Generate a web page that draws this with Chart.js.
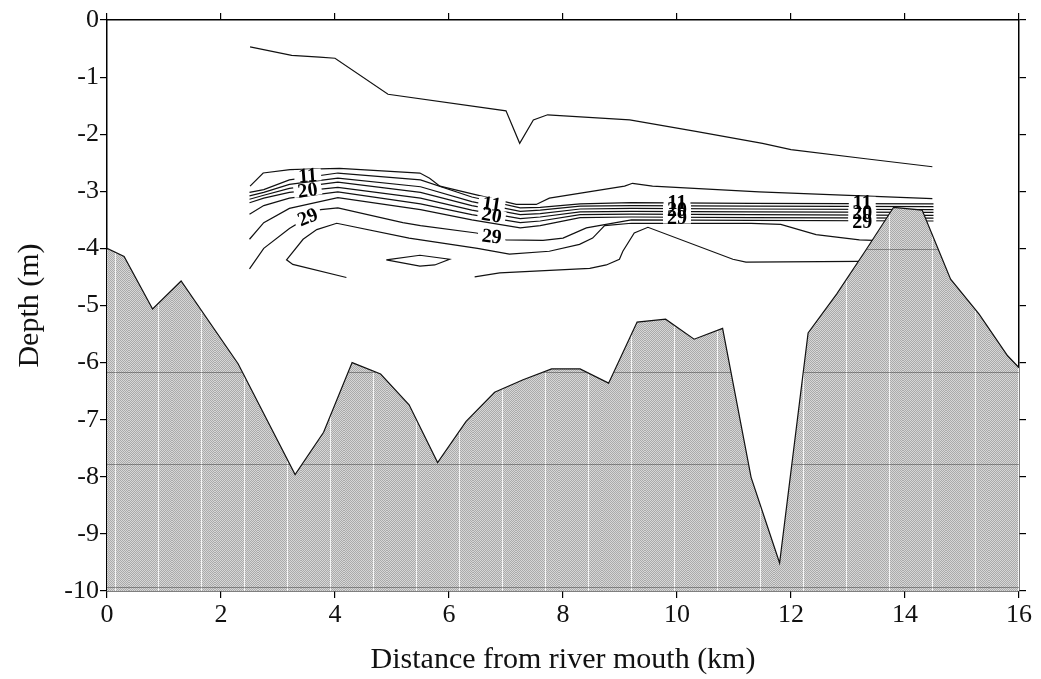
<!DOCTYPE html>
<html>
<head>
<meta charset="utf-8">
<script src="https://cdn.jsdelivr.net/npm/chart.js@4.4.1/dist/chart.umd.min.js"></script>
<style>
html,body{margin:0;padding:0;background:#fff}
#wrap{width:1041px;height:679px}
</style>
</head>
<body>
<div id="wrap"><canvas id="chart" width="1041" height="679"></canvas></div>
<script>
// --- bottom profile (km from mouth, depth m) ---
const bedKm    = [0, 0.3, 0.8, 1.3, 2.3, 3.3, 3.8, 4.3, 4.8, 5.3, 5.8, 6.3, 6.8, 7.3, 7.8, 8.3, 8.8, 9.3, 9.8, 10.3, 10.8, 11.3, 11.8, 12.3, 12.8, 13.3, 13.8, 14.3, 14.8, 15.3, 15.8, 16];
const bedDepth = [-4.0, -4.14, -5.06, -4.57, -6.02, -7.96, -7.22, -6.0, -6.2, -6.74, -7.75, -7.03, -6.52, -6.3, -6.11, -6.11, -6.36, -5.29, -5.24, -5.59, -5.40, -8.01, -9.51, -5.48, -4.8, -4.05, -3.28, -3.33, -4.54, -5.15, -5.88, -6.09];

// --- contour lines ---
const topKm    = [2.51, 3.24, 3.73, 4.0, 4.93, 7.0, 7.24, 7.48, 7.73, 9.17, 10.33, 11.5, 12.0, 13.31, 14.48];
const topDepth = [-0.47, -0.62, -0.65, -0.67, -1.30, -1.59, -2.16, -1.75, -1.66, -1.75, -1.95, -2.16, -2.27, -2.43, -2.57];

const upperKm    = [2.51, 2.74, 3.21, 4.08, 5.49, 5.66, 5.84, 7.18, 7.53, 7.76, 9.08, 9.22, 9.57, 11.44, 14.48];
const upperDepth = [-2.91, -2.68, -2.62, -2.60, -2.68, -2.77, -2.91, -3.23, -3.23, -3.12, -2.91, -2.86, -2.91, -3.01, -3.13];

const stackKm = [2.5, 2.75, 3.2, 4.05, 5.5, 6.4, 7.25, 7.6, 8.3, 9.2, 11.3, 14.5];
const depth11 = [-3.02, -2.97, -2.80, -2.68, -2.80, -3.10, -3.29, -3.28, -3.22, -3.20, -3.21, -3.22];
const depth14 = [-3.08, -3.02, -2.88, -2.77, -2.92, -3.18, -3.35, -3.33, -3.26, -3.25, -3.26, -3.27];
const depth17 = [-3.14, -3.07, -2.95, -2.84, -3.02, -3.25, -3.41, -3.39, -3.31, -3.30, -3.31, -3.32];
const depth20 = [-3.20, -3.12, -3.02, -2.93, -3.12, -3.33, -3.48, -3.45, -3.36, -3.35, -3.36, -3.37];
const depth23 = [-3.40, -3.25, -3.12, -3.01, -3.22, -3.41, -3.55, -3.52, -3.41, -3.40, -3.41, -3.42];
const depth26 = [-3.84, -3.55, -3.30, -3.11, -3.32, -3.50, -3.64, -3.60, -3.46, -3.45, -3.46, -3.47];

const km29    = [2.5, 2.75, 3.2, 3.5, 3.75, 4.05, 5.19, 5.5, 6.48, 7.0, 7.65, 8.0, 8.41, 9.2, 11.3, 14.5];
const depth29 = [-4.36, -4.0, -3.65, -3.47, -3.32, -3.29, -3.55, -3.60, -3.73, -3.85, -3.86, -3.82, -3.64, -3.50, -3.51, -3.52];

const km32    = [4.2, 3.26, 3.15, 3.44, 3.68, 4.03, 5.3, 6.5, 7.06, 7.76, 8.29, 8.52, 8.73, 9.2, 11.3, 11.82, 12.44, 13.2, 14.5];
const depth32 = [-4.51, -4.28, -4.2, -3.84, -3.67, -3.56, -3.82, -4.0, -4.10, -4.05, -3.93, -3.82, -3.60, -3.56, -3.56, -3.58, -3.76, -3.85, -3.9];

const km35    = [6.45, 6.89, 8.47, 8.76, 8.99, 9.05, 9.25, 9.49, 10.98, 11.21, 14.5];
const depth35 = [-4.5, -4.43, -4.35, -4.29, -4.19, -4.05, -3.73, -3.63, -4.19, -4.24, -4.22];

const lensKm    = [4.9, 5.49, 6.01, 5.75, 5.49, 4.9];
const lensDepth = [-4.2, -4.12, -4.19, -4.29, -4.31, -4.2];

// contour labels
const labelText  = ['11', '20', '29', '11', '20', '29', '11', '20', '29', '11', '20', '29'];
const labelKm    = [3.52, 3.52, 3.52, 6.75, 6.75, 6.75, 10.0, 10.0, 10.0, 13.25, 13.25, 13.25];
const labelDepth = [-2.72, -2.98, -3.45, -3.22, -3.42, -3.79, -3.20, -3.33, -3.46, -3.20, -3.38, -3.54];
const labelAngle = [-4, -8, -22, 8, 10, 6, 0, 0, 0, 0, 0, 0];

// scan streaks inside the shaded bottom
const streakDepths = [-4.01, -6.17, -7.77, -9.93];

const SERIF = '"Liberation Serif", "Times New Roman", serif';

function pts(xs, ys){ return xs.map((x,i)=>({x, y: ys[i]})); }

function bedPattern(){
  const c = document.createElement('canvas');
  c.width = 43; c.height = 2;
  const g = c.getContext('2d');
  for (let i = 0; i < 43; i++){
    for (let j = 0; j < 2; j++){
      g.fillStyle = ((i + j) % 2) ? '#d6d6d6' : '#aaaaaa';
      if (i === 29) g.fillStyle = '#f4f4f4';
      g.fillRect(i, j, 1, 1);
    }
  }
  return g.createPattern(c, 'repeat');
}

function contour(xs, ys){
  return { data: pts(xs, ys), showLine: true, borderColor: '#111', borderWidth: 1.2,
           pointRadius: 0, fill: false, tension: 0, order: 1 };
}

const fillStreaks = {
  id: 'fillStreaks',
  afterDatasetDraw(chart, args){
    if (args.index !== 0) return;
    const {ctx, chartArea: a, scales: {x, y}} = chart;
    ctx.save();
    ctx.beginPath();
    ctx.moveTo(x.getPixelForValue(bedKm[0]), y.getPixelForValue(-10));
    bedKm.forEach((k,i)=>ctx.lineTo(x.getPixelForValue(k), y.getPixelForValue(bedDepth[i])));
    ctx.lineTo(x.getPixelForValue(bedKm[bedKm.length-1]), y.getPixelForValue(-10));
    ctx.closePath();
    ctx.clip();
    ctx.strokeStyle = 'rgba(50,50,50,0.45)';
    ctx.lineWidth = 1;
    streakDepths.forEach(d=>{
      const py = Math.round(y.getPixelForValue(d)) + 0.5;
      ctx.beginPath(); ctx.moveTo(a.left, py); ctx.lineTo(a.right, py); ctx.stroke();
    });
    ctx.restore();
  }
};

const contourLabels = {
  id: 'contourLabels',
  afterDatasetsDraw(chart){
    const {ctx, scales: {x, y}} = chart;
    ctx.save();
    ctx.font = 'bold 20px ' + SERIF;
    ctx.textAlign = 'center';
    ctx.textBaseline = 'middle';
    const place = (i, fn) => {
      ctx.save();
      ctx.translate(x.getPixelForValue(labelKm[i]), y.getPixelForValue(labelDepth[i]));
      ctx.rotate(labelAngle[i] * Math.PI / 180);
      fn();
      ctx.restore();
    };
    labelText.forEach((t,i)=>place(i, ()=>{
      const w = ctx.measureText(t).width;
      ctx.fillStyle = '#fff';
      ctx.fillRect(-w/2 - 4, -6, w + 8, 12);
    }));
    labelText.forEach((t,i)=>place(i, ()=>{
      ctx.fillStyle = '#000';
      ctx.fillText(t, 0, 1);
    }));
    ctx.restore();
  }
};

const axisGrid = { drawOnChartArea: false, drawTicks: true, tickLength: 7, color: '#000', lineWidth: 1.2 };
const axisBorder = { display: true, color: '#000', width: 1.5 };

new Chart(document.getElementById('chart'), {
  type: 'scatter',
  data: {
    datasets: [
      { data: pts(bedKm, bedDepth), showLine: true, borderColor: '#111', borderWidth: 1.2,
        backgroundColor: bedPattern(), fill: 'start', pointRadius: 0, tension: 0, order: 0 },
      contour(topKm, topDepth),
      contour(upperKm, upperDepth),
      contour(stackKm, depth11),
      contour(stackKm, depth14),
      contour(stackKm, depth17),
      contour(stackKm, depth20),
      contour(stackKm, depth23),
      contour(stackKm, depth26),
      contour(km29, depth29),
      contour(km32, depth32),
      contour(km35, depth35),
      contour(lensKm, lensDepth)
    ]
  },
  options: {
    responsive: false,
    devicePixelRatio: 1,
    animation: false,
    layout: { padding: 0 },
    plugins: { legend: { display: false }, tooltip: { enabled: false } },
    scales: {
      x: {
        type: 'linear', position: 'bottom', min: 0, max: 16,
        ticks: { stepSize: 2, maxRotation: 0, padding: 2, color: '#111', font: { family: SERIF, size: 26 } },
        grid: axisGrid, border: axisBorder,
        title: { display: true, text: 'Distance from river mouth (km)', color: '#111',
                 font: { family: SERIF, size: 30 }, padding: { top: 0, bottom: 1 } },
        afterFit: s => { s.height = 88; }
      },
      x2: {
        type: 'linear', position: 'top', min: 0, max: 16,
        ticks: { stepSize: 2, display: false },
        grid: axisGrid, border: axisBorder,
        afterFit: s => { s.height = 20; }
      },
      y: {
        type: 'linear', position: 'left', min: -10, max: 0,
        ticks: { stepSize: 1, padding: 1, color: '#111', font: { family: SERIF, size: 26 } },
        grid: axisGrid, border: axisBorder,
        title: { display: true, text: 'Depth (m)', color: '#111',
                 font: { family: SERIF, size: 30 }, padding: { top: 12, bottom: 0 } },
        afterFit: s => { s.width = 107; }
      },
      y2: {
        type: 'linear', position: 'right', min: -10, max: 0,
        ticks: { stepSize: 1, display: false },
        grid: axisGrid, border: axisBorder,
        afterFit: s => { s.width = 22; }
      }
    }
  },
  plugins: [fillStreaks, contourLabels]
});
</script>
</body>
</html>
